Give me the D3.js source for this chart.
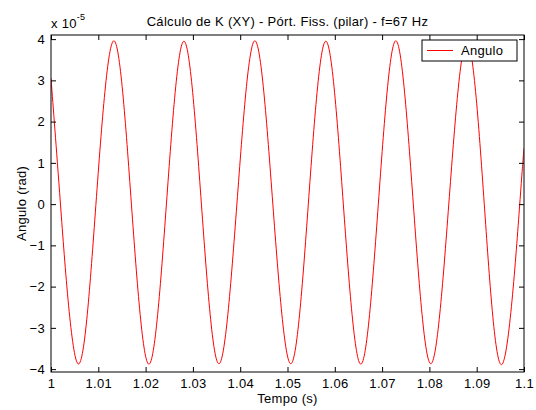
<!DOCTYPE html>
<html>
<head>
<meta charset="utf-8">
<script src="https://cdn.jsdelivr.net/npm/d3@7"></script>
<style>
  body { margin: 0; background: #fff; }
  svg { display: block; font-family: Arial, "Liberation Sans", sans-serif; }
  text { letter-spacing: 0.3px; }
</style>
</head>
<body>
<svg id="chart" width="536" height="410"></svg>
<script>
// data (values in units of 1e-5 rad)
var tempo = [1.0000, 1.0020, 1.0057, 1.0095, 1.0133, 1.0170, 1.0207, 1.0244, 1.0281, 1.0318,
             1.0355, 1.0393, 1.0431, 1.0469, 1.0507, 1.0544, 1.0581, 1.0618, 1.0655, 1.0692,
             1.0729, 1.0766, 1.0803, 1.0841, 1.0879, 1.0916, 1.0954, 1.0991, 1.1000];
var angulo = [3.05, 0, -3.87, 0, 3.96, 0, -3.88, 0, 3.95, 0,
              -3.87, 0, 3.96, 0, -3.87, 0, 3.95, 0, -3.88, 0,
              3.96, 0, -3.87, 0, 3.95, 0, -3.88, 0, 1.35];
var xTicks = [1, 1.01, 1.02, 1.03, 1.04, 1.05, 1.06, 1.07, 1.08, 1.09, 1.1];
var yTicks = [-4, -3, -2, -1, 0, 1, 2, 3, 4];
var seriesName = "Angulo";
var title = "Cálculo de K (XY) - Pórt. Fiss. (pilar) - f=67 Hz";

var svg = d3.select("#chart");
var W = 536, H = 410,
    margin = {left: 51, right: 12, top: 35, bottom: 38},
    w = W - margin.left - margin.right,
    h = H - margin.top - margin.bottom,
    fs = "13px";

var x = d3.scaleLinear().domain([1, 1.1]).range([0, w]);
var y = d3.scaleLinear().domain([-4.07, 4.1]).range([h, 0]);

var g = svg.append("g").attr("transform", "translate(" + margin.left + "," + margin.top + ")");

g.append("clipPath").attr("id", "clip")
  .append("rect").attr("width", w).attr("height", h);

// line
var pts = tempo.map(function(t, i) { return {t: t, v: angulo[i]}; });
var line = d3.line()
  .x(function(d) { return x(d.t); })
  .y(function(d) { return y(d.v); })
  .curve(d3.curveNatural);
g.append("path")
  .attr("clip-path", "url(#clip)")
  .attr("d", line(pts))
  .attr("fill", "none")
  .attr("stroke", "#ff0000")
  .attr("stroke-width", 1);

// axes (ticks pointing inward, box on)
var fmtX = function(d) { return d === 1 ? "1" : (d === 1.1 ? "1.1" : d3.format(".2f")(d)); };
var xAxis = d3.axisBottom(x).tickValues(xTicks).tickSize(-5).tickPadding(7).tickFormat(fmtX);
var yAxis = d3.axisLeft(y).tickValues(yTicks).tickSize(-5).tickPadding(6);
var xTop = d3.axisTop(x).tickValues(xTicks).tickSize(-5).tickFormat("");
var yRight = d3.axisRight(y).tickValues(yTicks).tickSize(-5).tickFormat("");

function style(sel) {
  sel.selectAll("path.domain").remove();
  sel.selectAll("line").attr("stroke", "#000");
  sel.selectAll("text").attr("fill", "#000").style("font-size", fs).style("font-family", "Arial, 'Liberation Sans', sans-serif");
}
g.append("g").attr("transform", "translate(0," + h + ")").call(xAxis).call(style);
g.append("g").call(yAxis).call(style);
g.append("g").call(xTop).call(style);
g.append("g").attr("transform", "translate(" + w + ",0)").call(yRight).call(style);

g.append("rect").attr("width", w).attr("height", h)
  .attr("fill", "none").attr("stroke", "#000").attr("stroke-width", 1);

// exponent label
var ex = svg.append("text").attr("x", 51).attr("y", 28)
  .style("font-size", fs).attr("fill", "#000");
ex.append("tspan").text("x 10");
ex.append("tspan").attr("dy", -8).style("font-size", "9px").text("-5");

// title and labels
svg.append("text").attr("x", margin.left + w / 2).attr("y", 26)
  .attr("text-anchor", "middle").style("font-size", fs).attr("fill", "#000").text(title);
svg.append("text").attr("x", margin.left + w / 2).attr("y", 403)
  .attr("text-anchor", "middle").style("font-size", fs).attr("fill", "#000").text("Tempo (s)");
svg.append("text").attr("transform", "translate(26," + (margin.top + h / 2) + ") rotate(-90)")
  .attr("text-anchor", "middle").style("font-size", fs).attr("fill", "#000").text("Angulo (rad)");

// legend
var leg = svg.append("g").attr("transform", "translate(422,40)");
leg.append("rect").attr("width", 95).attr("height", 21)
  .attr("fill", "#fff").attr("stroke", "#000");
leg.append("line").attr("x1", 5).attr("x2", 31).attr("y1", 10.5).attr("y2", 10.5)
  .attr("stroke", "#ff0000");
leg.append("text").attr("x", 39).attr("y", 15).style("font-size", fs).attr("fill", "#000").text(seriesName);
</script>
</body>
</html>
